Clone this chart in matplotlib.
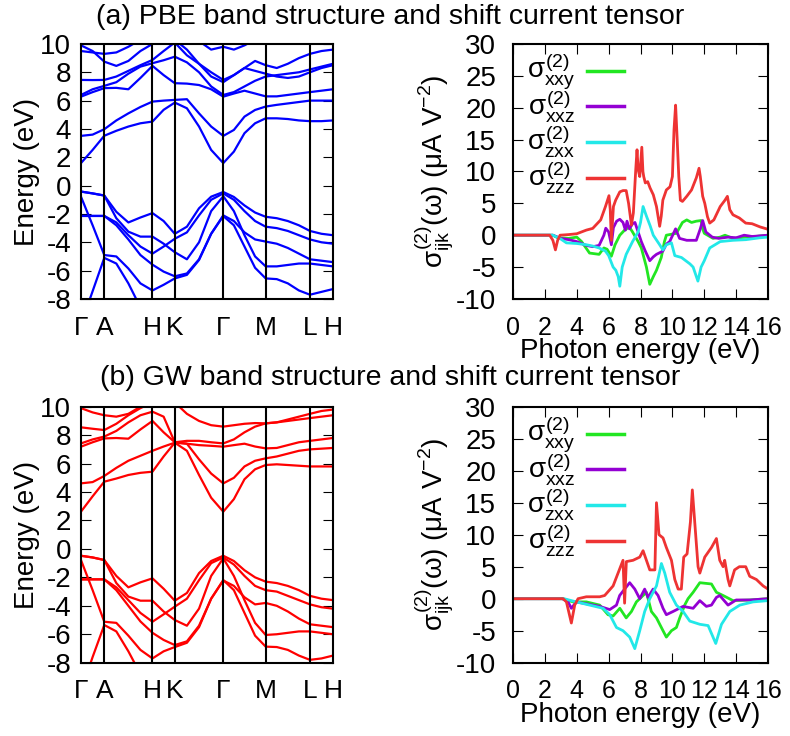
import numpy as np
import matplotlib
matplotlib.use('Agg')
import matplotlib.pyplot as plt

plt.rcParams['font.family'] = ['Liberation Sans', 'DejaVu Sans']
plt.rcParams['font.size'] = 20
plt.rcParams['axes.unicode_minus'] = False
plt.rcParams['mathtext.fontset'] = 'custom'
plt.rcParams['mathtext.rm'] = 'Liberation Sans'
plt.rcParams['mathtext.it'] = 'Liberation Sans'
plt.rcParams['mathtext.bf'] = 'Liberation Sans'

# high symmetry path (path length units)
knodes = [0, 23.3, 71.5, 93.8, 142.3, 184.7, 229, 252]
klabels = ['Γ', 'A', 'H', 'K', 'Γ', 'M', 'L', 'H']
nsteps = [2, 4, 2, 4, 4, 4, 2]   # samples between the nodes

# ---- PBE bands (eV), values at the sample points along the path ----
pbe_bands = [
    [-0.42, -0.55, -0.70, -1.85, -2.6, -2.25, -1.94, -2.5, -3.4, -2.9, -1.6, -0.78, -0.45, -0.8, -1.4, -1.9, -2.2, -2.3, -2.5, -2.8, -3.2, -3.4, -3.5],
    [-0.42, -0.55, -0.70, -2.3, -3.25, -3.6, -3.6, -4.1, -4.7, -5.2, -4.0, -1.8, -0.75, -1.8, -3.5, -5.0, -5.7, -5.7, -5.6, -5.5, -5.5, -5.6, -5.7],
    [-0.78, -2.8, -4.9, -5.0, -5.85, -6.9, -7.4, -7.0, -6.55, -6.3, -5.25, -3.4, -2.15, -2.8, -4.3, -5.8, -6.55, -6.6, -6.9, -7.4, -7.7, -7.5, -7.3],
    [-2.14, -2.14, -2.14, -2.6, -3.5, -4.3, -4.8, -4.3, -3.75, -3.3, -2.1, -1.0, -0.55, -1.0, -1.8, -2.5, -2.9, -3.0, -3.2, -3.5, -3.8, -4.0, -4.1],
    [-2.14, -2.14, -2.14, -2.8, -3.8, -4.9, -5.58, -6.07, -6.4, -6.2, -5.2, -3.4, -2.1, -2.5, -3.3, -3.8, -3.95, -4.1, -4.4, -4.8, -5.2, -5.3, -5.4],
    [-9.8, -7.45, -5.1, -5.5, -6.9, -8.6, -9.5, -9.8, -10, -10, -10, -10, -10, -10, -10, -10, -10, -10, -10, -10, -10, -10, -10],
    [1.59, 2.52, 3.52, 3.87, 4.17, 4.4, 4.52, 5.35, 5.86, 5.46, 4.17, 2.52, 1.59, 2.4, 3.7, 4.4, 4.75, 4.75, 4.7, 4.6, 4.55, 4.55, 4.6],
    [3.51, 3.6, 3.98, 4.6, 5.1, 5.55, 5.93, 6.0, 6.05, 6.1, 5.1, 4.17, 3.51, 3.93, 4.87, 5.34, 5.58, 5.7, 5.8, 5.9, 6.0, 6.0, 6.0],
    [6.28, 6.6, 6.88, 6.9, 6.8, 7.6, 8.45, 7.8, 7.23, 7.2, 7.1, 6.8, 6.28, 6.5, 6.7, 6.5, 6.3, 6.3, 6.4, 6.5, 6.6, 6.7, 6.8],
    [6.4, 6.8, 7.04, 7.3, 7.9, 8.4, 8.64, 8.85, 9.1, 8.7, 8.0, 7.0, 6.4, 6.6, 7.0, 7.4, 7.7, 7.8, 7.9, 8.0, 8.2, 8.4, 8.6],
    [7.46, 7.45, 7.46, 7.7, 8.1, 8.5, 8.87, 9.5, 10.1, 9.2, 8.6, 8.0, 7.46, 7.8, 8.3, 8.1, 7.9, 7.7, 7.6, 7.7, 8.0, 8.3, 8.5],
    [9.5, 9.4, 9.3, 9.4, 9.8, 10.3, 10.5, 10.5, 10.5, 10.5, 10.2, 9.6, 9.8, 9.6, 9.9, 10.3, 10.5, 10.5, 10.5, 10.5, 10.5, 10.5, 10.5],
    [9.9, 9.5, 8.75, 8.45, 8.8, 9.5, 10.0, 10.5, 10.5, 10.5, 10.5, 10.5, 10.5, 10.5, 10.5, 10.5, 10.5, 10.5, 10.5, 10.5, 10.5, 10.5, 10.5],
    [10.5, 10.5, 10.5, 10.5, 10.5, 10.5, 10.5, 10.5, 10.3, 9.6, 8.6, 7.7, 7.3, 7.8, 8.3, 8.8, 8.5, 8.3, 8.6, 9.0, 9.3, 9.5, 9.6],
]

# ---- GW bands (eV) ----
gw_bands = [
    [-0.48, -0.6, -0.78, -1.9, -2.7, -2.35, -2.07, -2.8, -3.64, -3.1, -1.7, -0.85, -0.48, -0.85, -1.5, -2.0, -2.3, -2.4, -2.6, -2.9, -3.3, -3.5, -3.6],
    [-0.48, -0.6, -0.78, -2.4, -3.35, -3.64, -3.64, -4.4, -5.0, -5.4, -4.2, -1.9, -0.66, -1.9, -3.6, -5.2, -6.05, -6.0, -5.9, -5.8, -5.8, -5.9, -6.0],
    [-0.78, -2.9, -5.12, -5.2, -6.1, -7.1, -7.7, -7.2, -6.9, -6.6, -5.5, -3.5, -2.19, -2.9, -4.5, -6.1, -6.87, -6.9, -7.1, -7.5, -7.8, -7.7, -7.5],
    [-2.14, -2.14, -2.14, -2.7, -3.6, -4.5, -5.12, -4.6, -4.06, -3.5, -2.2, -1.0, -0.6, -1.1, -1.9, -2.6, -2.9, -3.0, -3.3, -3.6, -3.9, -4.1, -4.2],
    [-2.14, -2.14, -2.14, -2.9, -4.0, -5.1, -5.9, -6.4, -6.76, -6.5, -5.4, -3.5, -2.22, -2.6, -3.4, -3.9, -3.8, -4.0, -4.4, -4.9, -5.3, -5.4, -5.5],
    [-10.0, -7.6, -5.35, -5.8, -7.2, -8.8, -9.7, -10, -10, -10, -10, -10, -10, -10, -10, -10, -10, -10, -10, -10, -10, -10, -10],
    [2.62, 3.7, 4.73, 4.95, 5.2, 5.35, 5.43, 6.5, 7.47, 6.9, 5.2, 3.6, 2.62, 3.5, 4.9, 5.6, 5.9, 5.95, 5.9, 5.85, 5.8, 5.8, 5.8],
    [4.61, 4.7, 5.13, 5.7, 6.2, 6.55, 6.9, 7.2, 7.47, 7.4, 6.3, 5.3, 4.61, 5.0, 5.8, 6.2, 6.37, 6.5, 6.7, 6.9, 7.0, 7.05, 7.1],
    [7.19, 7.5, 7.77, 7.8, 7.75, 8.4, 9.0, 8.2, 7.5, 7.4, 7.3, 7.25, 7.19, 7.3, 7.4, 7.2, 7.07, 7.1, 7.3, 7.5, 7.6, 7.7, 7.8],
    [7.42, 7.7, 7.9, 8.3, 8.9, 9.4, 9.65, 9.3, 7.5, 7.6, 7.6, 7.5, 7.42, 7.7, 8.2, 8.6, 8.83, 8.9, 9.0, 9.1, 9.2, 9.3, 9.4],
    [8.55, 8.45, 8.36, 8.8, 9.4, 9.9, 10.3, 10.5, 10.5, 10.5, 10.5, 10.5, 10.5, 10.5, 10.5, 10.5, 10.5, 10.5, 10.5, 10.5, 10.5, 10.5, 10.5],
    [9.9, 9.6, 9.4, 9.3, 9.5, 10.0, 10.3, 10.5, 10.5, 10.5, 10.5, 10.5, 10.5, 10.5, 10.5, 10.5, 10.5, 10.5, 10.5, 10.5, 10.5, 10.5, 10.5],
    [10.5, 10.5, 10.5, 10.5, 10.5, 10.5, 10.5, 10.5, 10.3, 9.5, 9.0, 8.7, 8.6, 8.7, 8.8, 8.85, 8.83, 8.9, 9.1, 9.3, 9.5, 9.7, 9.8],
]

# ---- shift current spectra, photon energy (eV) and sigma (uA/V^2) ----
pbe_xxy_w = [0, 2.5, 2.8, 3.5, 4.0, 4.3, 4.8, 5.4, 5.7, 5.9, 6.17, 6.4, 6.7, 7.0, 7.3, 7.5, 7.85, 8.05, 8.37, 8.58, 8.8, 9.0, 9.3, 9.5, 9.62, 10.25, 10.63, 10.9, 11.2, 11.5, 11.8, 11.9, 12.0, 12.55, 13.0, 13.3, 13.8, 14.6, 15.2, 16.0]
pbe_xxy_s = [0, 0, -0.4, -0.5, -0.3, -1.0, -2.8, -3.0, -2.0, -2.2, -3.3, -1.5, 0, 0.8, 1.3, 0.5, -1.0, -2.0, -5.0, -7.7, -6.5, -5.5, -3.5, -1.0, 0, 0.3, 2.0, 2.4, 2.0, 2.2, 2.3, 1.0, 0.3, -0.5, -0.3, 0, -0.5, -0.3, -0.2, 0]

pbe_xxz_w = [0, 2.5, 3.0, 3.5, 4.0, 4.6, 5.0, 5.4, 5.7, 5.82, 6.0, 6.17, 6.3, 6.5, 6.7, 6.9, 7.05, 7.15, 7.3, 7.5, 7.65, 7.85, 8.05, 8.3, 8.58, 8.8, 9.0, 9.4, 9.62, 9.83, 10.2, 10.45, 10.9, 11.5, 11.75, 11.9, 12.1, 12.5, 12.9, 13.5, 14.0, 14.5, 15.0, 16.0]
pbe_xxz_s = [0, 0, -0.5, -0.7, -1.0, -1.6, -1.8, -1.6, 0.0, 1.1, 0.5, -1.5, 1.2, 2.2, 2.5, 2.0, 0.8, 2.2, 1.0, 1.8, 2.0, 0.5, -1.0, -2.5, -4.0, -3.4, -3.0, -2.5, -1.4, -1.0, 1.0, -0.5, -0.8, -0.8, 1.0, 2.3, 0.5, -0.3, -0.5, -0.3, -0.4, 0, -0.2, 0]

pbe_zxx_w = [0, 2.5, 3.0, 3.35, 4.0, 4.6, 5.0, 5.4, 5.8, 6.0, 6.28, 6.45, 6.6, 6.7, 6.85, 7.1, 7.5, 7.85, 8.0, 8.16, 8.37, 8.6, 8.8, 9.2, 9.4, 9.62, 9.94, 10.15, 10.57, 11.1, 11.3, 11.6, 11.8, 12.0, 12.34, 13.0, 13.8, 14.6, 15.5, 16.0]
pbe_zxx_s = [0, 0, -0.6, -1.2, -1.3, -1.5, -1.7, -2.0, -2.5, -3.2, -5.0, -5.5, -6.5, -8.0, -5.0, -3.0, -1.0, 0.5, 2.0, 4.5, 3.0, 1.5, 0, -1.5, -2.3, -1.5, -1.2, -3.2, -3.5, -4.5, -5.0, -7.2, -5.0, -4.0, -2.0, -1.0, -0.8, -0.7, -0.4, -0.3]

pbe_zzz_w = [0, 2.3, 2.5, 2.66, 2.8, 2.95, 3.5, 4.0, 4.6, 5.0, 5.5, 5.8, 6.02, 6.1, 6.17, 6.3, 6.44, 6.7, 6.9, 7.1, 7.25, 7.43, 7.55, 7.7, 7.78, 7.85, 7.95, 8.08, 8.15, 8.2, 8.3, 8.45, 8.6, 8.8, 9.0, 9.2, 9.3, 9.4, 9.62, 9.85, 10.0, 10.1, 10.2, 10.3, 10.4, 10.5, 10.63, 10.9, 11.2, 11.5, 11.67, 11.75, 11.9, 12.03, 12.2, 12.34, 12.6, 13.0, 13.3, 13.45, 13.6, 13.8, 14.2, 14.6, 15.0, 15.5, 15.9, 16.0]
pbe_zzz_s = [0, 0, -0.8, -2.3, -0.8, 0, 0.1, 0.23, 0.8, 1.07, 2.4, 4.5, 6.2, 4.0, -0.8, 4.5, 5.5, 6.8, 7.0, 7.0, 5.0, 1.6, 3.5, 10.3, 13.4, 10.3, 9.2, 13.8, 10.0, 9.2, 8.2, 8.4, 7.4, 6.35, 4.5, 1.4, 3.0, 5.5, 7.1, 7.6, 9.2, 16.5, 20.4, 15.0, 9.2, 5.5, 5.3, 6.1, 7.1, 9.0, 10.5, 9.2, 6.1, 5.0, 2.9, 1.9, 2.4, 4.5, 5.5, 6.1, 4.0, 3.2, 2.7, 1.9, 1.8, 1.3, 1.0, 0.9]

gw_xxy_w = [0, 3.1, 3.77, 4.6, 5.44, 5.96, 6.28, 6.7, 7.1, 7.43, 7.74, 7.95, 8.37, 8.68, 9.0, 9.41, 9.62, 9.94, 10.25, 10.46, 10.77, 10.98, 11.3, 11.72, 12.45, 12.76, 13.18, 13.8, 14.85, 16.0]
gw_xxy_s = [0, 0, -0.5, -0.5, -1.0, -2.5, -2.7, -1.5, -3.0, -2.0, -0.5, 0, 1.0, -2.0, -3.0, -5.0, -6.0, -5.0, -4.5, -3.0, -1.0, 0, 1.0, 2.5, 2.3, 1.0, 0.5, -0.3, -0.2, 0]

gw_xxz_w = [0, 3.1, 3.45, 3.66, 3.97, 4.6, 5.44, 6.07, 6.49, 6.69, 7.0, 7.32, 7.64, 7.95, 8.26, 8.47, 8.79, 9.1, 9.41, 9.62, 10.04, 10.67, 11.3, 11.72, 12.13, 12.45, 12.76, 12.97, 13.49, 14.0, 14.85, 16.0]
gw_xxz_s = [0, 0, -0.5, -1.5, -0.5, -0.8, -1.2, -1.7, -1.0, 0.5, 1.5, 2.5, 1.5, 0, 1.5, 0.2, 1.5, 0.5, -1.5, -2.5, -2.0, -1.2, -1.5, -0.3, -1.2, -1.0, 0.2, 0.5, -1.0, -0.2, -0.2, 0]

gw_zxx_w = [0, 3.2, 3.97, 4.81, 5.65, 6.07, 6.49, 6.9, 7.32, 7.64, 7.95, 8.26, 8.58, 9.0, 9.31, 9.52, 9.83, 10.25, 10.67, 11.09, 11.72, 12.24, 12.72, 13.08, 13.6, 14.23, 15.06, 16.0]
gw_zxx_s = [0, 0, -0.5, -1.0, -1.5, -2.5, -4.5, -5.0, -6.0, -7.8, -5.0, -2.0, 0, 2.0, 5.5, 4.0, 1.0, -1.0, -2.0, -3.5, -4.0, -4.2, -7.0, -4.0, -2.0, -1.0, -0.5, -0.3]

gw_zzz_w = [0, 3.14, 3.35, 3.66, 3.87, 4.08, 4.6, 5.44, 5.75, 6.28, 6.59, 6.9, 7.0, 7.11, 7.53, 7.95, 8.16, 8.37, 8.58, 8.9, 9.0, 9.16, 9.41, 9.62, 9.94, 10.15, 10.36, 10.56, 10.71, 10.92, 11.13, 11.25, 11.4, 11.61, 11.72, 12.03, 12.45, 12.76, 12.97, 13.18, 13.28, 13.49, 13.6, 13.9, 14.2, 14.6, 14.85, 15.27, 15.69, 16.0]
gw_zzz_s = [0, 0, -0.5, -3.8, -1.0, 0, 0.3, 0.3, 0.5, 2.0, 4.0, 6.0, -0.7, 5.8, 6.0, 6.5, 7.5, 6.0, 4.5, 4.5, 15.0, 10.0, 9.5, 8.0, 6.0, 3.0, 1.5, 1.5, 6.5, 7.0, 12.0, 17.0, 12.0, 5.0, 4.0, 6.5, 8.0, 9.4, 6.0, 5.0, 6.0, 3.0, 2.0, 4.5, 5.0, 5.0, 3.5, 3.0, 2.0, 1.5]

comp_labels = [r'$\sigma^{(2)}_{xxy}$', r'$\sigma^{(2)}_{xxz}$', r'$\sigma^{(2)}_{zxx}$', r'$\sigma^{(2)}_{zzz}$']
comp_colors = ['#22e622', '#9400d3', '#22e8e8', '#ee3333']

# sample points along the k path
kx = [knodes[0]]
for i, n in enumerate(nsteps):
    kx += list(np.linspace(knodes[i], knodes[i + 1], n + 1)[1:])
kx = np.array(kx)


def band_panel(ax, bands, color):
    for b in bands:
        ax.plot(kx, b, color=color, lw=1.6)
    for k in knodes[1:-1]:
        ax.axvline(k, color='black', lw=1.5)
    ax.set_xlim(knodes[0], knodes[-1])
    ax.set_ylim(-8, 10)
    ax.set_yticks(range(-8, 11, 2))
    ax.set_xticks(knodes)
    ax.set_xticklabels(klabels)
    ax.tick_params(axis='x', length=0, pad=12, labelsize=19)
    ax.tick_params(axis='y', direction='in', length=7, right=True, pad=7)
    ax.set_ylabel('Energy (eV)', fontsize=20, labelpad=0)
    for s in ax.spines.values():
        s.set_linewidth(1.5)


def spec_panel(ax, curves):
    for (w, s), c in zip(curves, comp_colors):
        ax.plot(w, s, color=c, lw=2)
    ax.set_xlim(0, 16)
    ax.set_ylim(-10, 30)
    ax.set_xticks(range(0, 17, 2))
    ax.set_yticks(range(-10, 31, 5))
    ax.tick_params(direction='in', length=7, top=True, right=True, pad=12)
    ax.tick_params(axis='x', labelsize=18)
    ax.set_xlabel('Photon energy (eV)', fontsize=20, labelpad=-1)
    ax.set_ylabel(r'$\sigma^{(2)}_{ijk}(\omega)$ (μA V$^{-2}$)', fontsize=20, labelpad=0)
    for s in ax.spines.values():
        s.set_linewidth(1.5)
    # key: label on the left, line sample on the right
    for i, (lab, c) in enumerate(zip(comp_labels, comp_colors)):
        y = 0.895 - i * 0.14
        ax.plot([0.29, 0.435], [y, y], color=c, lw=2.5, transform=ax.transAxes)
        ax.text(0.245, y, lab, ha='right', va='center', fontsize=20, transform=ax.transAxes)


fig = plt.figure(figsize=(7.9, 7.36), dpi=100)
ax1 = fig.add_axes([0.1025, 0.5938, 0.319, 0.3465])
ax2 = fig.add_axes([0.6494, 0.5938, 0.3228, 0.3465])
ax3 = fig.add_axes([0.1025, 0.0996, 0.319, 0.3478])
ax4 = fig.add_axes([0.6494, 0.0996, 0.3228, 0.3478])

band_panel(ax1, pbe_bands, '#0000ff')
band_panel(ax3, gw_bands, '#ff0000')
spec_panel(ax2, [(pbe_xxy_w, pbe_xxy_s), (pbe_xxz_w, pbe_xxz_s), (pbe_zxx_w, pbe_zxx_s), (pbe_zzz_w, pbe_zzz_s)])
spec_panel(ax4, [(gw_xxy_w, gw_xxy_s), (gw_xxz_w, gw_xxz_s), (gw_zxx_w, gw_zxx_s), (gw_zzz_w, gw_zzz_s)])

fig.text(0.494, 0.977, '(a) PBE band structure and shift current tensor', ha='center', va='center', fontsize=20.5)
fig.text(0.494, 0.487, '(b) GW band structure and shift current tensor', ha='center', va='center', fontsize=20.5)

fig.savefig('out.png', dpi=100)
